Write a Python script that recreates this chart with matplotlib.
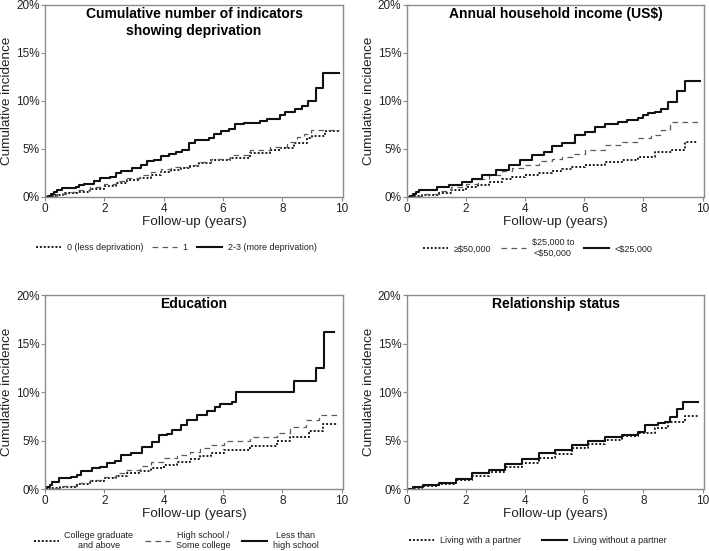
import matplotlib
matplotlib.use("Agg")
import matplotlib.pyplot as plt
from matplotlib.ticker import FuncFormatter

plt.rcParams['font.family'] = ['Liberation Sans', 'DejaVu Sans']

# Panel 1: cumulative number of indicators showing deprivation
dep_title = "Cumulative number of indicators\nshowing deprivation"
dep_labels = ["0 (less deprivation)", "1", "2-3 (more deprivation)"]
dep0_t = [0, 0.15, 0.3, 0.6, 1.09, 1.5, 1.99, 2.4, 2.77, 3.2, 3.56, 3.9, 4.23, 4.6, 4.9, 5.2, 5.58, 6.25, 6.92, 7.6, 7.93, 8.38, 8.83, 9.0, 9.45, 9.9]
dep0_y = [0, 0.1, 0.2, 0.4, 0.55, 0.8, 1.15, 1.45, 1.75, 2.0, 2.3, 2.55, 2.8, 3.0, 3.25, 3.5, 3.85, 4.1, 4.6, 4.9, 5.05, 5.6, 6.1, 6.3, 6.9, 6.9]
dep1_t = [0, 0.15, 0.4, 0.7, 1.09, 1.5, 1.99, 2.4, 2.77, 3.2, 3.56, 3.9, 4.23, 4.9, 5.2, 5.58, 6.25, 6.92, 7.6, 8.16, 8.5, 8.72, 8.95, 9.9]
dep1_y = [0, 0.15, 0.3, 0.5, 0.73, 1.0, 1.4, 1.7, 2.0, 2.3, 2.6, 2.9, 3.15, 3.3, 3.6, 4.0, 4.4, 4.9, 5.2, 5.75, 6.2, 6.6, 6.95, 6.95]
dep2_t = [0, 0.1, 0.2, 0.3, 0.41, 0.58, 1.03, 1.15, 1.3, 1.65, 1.87, 2.2, 2.38, 2.55, 2.94, 3.22, 3.45, 3.67, 3.9, 4.17, 4.4, 4.63, 4.85, 5.07, 5.52, 5.69, 5.92, 6.2, 6.42, 6.7, 7.26, 7.49, 7.93, 8.1, 8.44, 8.66, 8.85, 9.13, 9.37, 9.9]
dep2_y = [0, 0.15, 0.35, 0.55, 0.73, 0.9, 1.0, 1.25, 1.4, 1.7, 2.0, 2.1, 2.5, 2.7, 3.0, 3.3, 3.7, 3.9, 4.3, 4.5, 4.7, 4.9, 5.6, 5.9, 6.1, 6.6, 6.9, 7.1, 7.6, 7.7, 7.9, 8.1, 8.5, 8.9, 9.15, 9.5, 10.0, 11.4, 12.95, 12.95]

# Panel 2: annual household income
inc_title = "Annual household income (US$)"
inc_labels = ["\u2265$50,000", "$25,000 to\n<$50,000", "<$25,000"]
inc0_t = [0, 0.2, 0.5, 1.09, 1.5, 1.99, 2.4, 2.77, 3.2, 3.56, 4.0, 4.46, 4.9, 5.24, 5.6, 6.03, 6.7, 7.26, 7.82, 8.38, 8.95, 9.39, 9.8]
inc0_y = [0, 0.1, 0.2, 0.45, 0.7, 1.0, 1.3, 1.6, 1.85, 2.1, 2.3, 2.45, 2.7, 2.95, 3.1, 3.3, 3.65, 3.9, 4.2, 4.7, 4.9, 5.75, 5.75]
inc1_t = [0, 0.2, 0.5, 1.09, 1.5, 1.99, 2.4, 2.77, 3.2, 3.56, 4.0, 4.46, 4.9, 5.24, 5.6, 6.03, 6.7, 7.26, 7.82, 8.27, 8.61, 8.89, 9.9]
inc1_y = [0, 0.15, 0.3, 0.65, 1.0, 1.35, 1.85, 2.3, 2.7, 3.0, 3.35, 3.7, 3.95, 4.2, 4.5, 4.9, 5.4, 5.75, 6.1, 6.45, 7.0, 7.85, 7.85]
inc2_t = [0, 0.1, 0.2, 0.3, 0.41, 1.03, 1.43, 1.87, 2.2, 2.55, 3.0, 3.45, 3.84, 4.23, 4.62, 4.9, 5.24, 5.69, 6.03, 6.36, 6.7, 7.15, 7.43, 7.82, 7.99, 8.16, 8.38, 8.61, 8.83, 9.15, 9.4, 9.9]
inc2_y = [0, 0.15, 0.35, 0.55, 0.73, 1.0, 1.25, 1.6, 1.9, 2.3, 2.8, 3.3, 3.9, 4.4, 4.7, 5.3, 5.65, 6.45, 6.8, 7.25, 7.65, 7.8, 8.0, 8.2, 8.5, 8.75, 8.9, 9.2, 9.9, 11.0, 12.1, 12.1]

# Panel 3: education
edu_title = "Education"
edu_labels = ["College graduate\nand above", "High school /\nSome college", "Less than\nhigh school"]
edu0_t = [0, 0.2, 0.5, 1.09, 1.5, 1.99, 2.4, 2.77, 3.2, 3.56, 4.0, 4.46, 4.9, 5.24, 5.6, 6.03, 6.92, 7.82, 8.27, 8.9, 9.36, 9.87]
edu0_y = [0, 0.1, 0.25, 0.5, 0.8, 1.1, 1.35, 1.6, 1.9, 2.2, 2.5, 2.8, 3.1, 3.4, 3.7, 4.0, 4.45, 4.9, 5.4, 6.0, 6.75, 6.75]
edu1_t = [0, 0.2, 0.5, 1.09, 1.5, 1.99, 2.4, 2.77, 3.2, 3.56, 4.0, 4.46, 4.9, 5.24, 5.6, 6.03, 6.92, 7.82, 8.27, 8.8, 9.25, 9.87]
edu1_y = [0, 0.15, 0.3, 0.6, 0.9, 1.2, 1.6, 1.95, 2.4, 2.8, 3.15, 3.5, 3.85, 4.2, 4.55, 4.9, 5.4, 5.75, 6.4, 7.1, 7.6, 7.6]
edu2_t = [0, 0.08, 0.16, 0.25, 0.47, 0.86, 1.08, 1.2, 1.59, 1.87, 2.1, 2.37, 2.55, 2.9, 3.27, 3.6, 3.83, 4.1, 4.27, 4.6, 4.77, 5.11, 5.45, 5.73, 5.9, 6.29, 6.43, 8.4, 9.15, 9.4, 9.75]
edu2_y = [0, 0.2, 0.45, 0.75, 1.1, 1.2, 1.45, 1.85, 2.2, 2.3, 2.65, 2.9, 3.5, 3.7, 4.35, 4.8, 5.55, 5.7, 6.1, 6.6, 7.1, 7.6, 8.0, 8.5, 8.8, 9.0, 10.0, 11.1, 12.5, 16.2, 16.2]

# Panel 4: relationship status
rel_title = "Relationship status"
rel_labels = ["Living with a partner", "Living without a partner"]
rel0_t = [0, 0.2, 0.5, 1.09, 1.65, 2.21, 2.77, 3.33, 3.89, 4.46, 5.02, 5.58, 6.14, 6.7, 7.26, 7.82, 8.38, 8.83, 9.39, 9.84]
rel0_y = [0, 0.15, 0.3, 0.5, 0.9, 1.35, 1.8, 2.3, 2.7, 3.15, 3.6, 4.2, 4.65, 5.1, 5.45, 5.75, 6.25, 6.95, 7.5, 7.5]
rel1_t = [0, 0.2, 0.53, 1.09, 1.65, 2.21, 2.77, 3.33, 3.89, 4.46, 5.02, 5.58, 6.14, 6.7, 7.26, 7.82, 8.05, 8.5, 8.72, 8.89, 9.12, 9.34, 9.84]
rel1_y = [0, 0.2, 0.4, 0.6, 1.0, 1.6, 1.95, 2.6, 3.05, 3.7, 4.0, 4.5, 4.9, 5.4, 5.6, 5.9, 6.6, 6.8, 6.9, 7.4, 8.2, 9.0, 9.0]

dotted = dict(color='#1a1a1a', lw=1.4, linestyle=(0, (1, 1)))
dashed = dict(color='#5a5a5a', lw=0.9, linestyle=(0, (4.5, 3.5)))
solid = dict(color='#111111', lw=1.5, linestyle='-')

panels = [
    (dep_title, dep_labels, [(dep0_t, dep0_y), (dep1_t, dep1_y), (dep2_t, dep2_y)], [dotted, dashed, solid], 1.0),
    (inc_title, inc_labels, [(inc0_t, inc0_y), (inc1_t, inc1_y), (inc2_t, inc2_y)], [dotted, dashed, solid], 1.1),
    (edu_title, edu_labels, [(edu0_t, edu0_y), (edu1_t, edu1_y), (edu2_t, edu2_y)], [dotted, dashed, solid], 1.3),
    (rel_title, rel_labels, [(rel0_t, rel0_y), (rel1_t, rel1_y)], [dotted, solid], 2.4),
]

fig = plt.figure(figsize=(7.09, 5.51), dpi=100)
rects = [
    [0.0635, 0.6425, 0.4205, 0.3485],
    [0.574, 0.6425, 0.419, 0.3485],
    [0.0635, 0.1125, 0.4205, 0.352],
    [0.574, 0.1125, 0.419, 0.352],
]
spine_col = '#8c8c8c'

for rect, (title, labels, series, sty, colsp) in zip(rects, panels):
    ax = fig.add_axes(rect)
    for (t, y), lab, s in zip(series, labels, sty):
        ax.step(t, y, where='post', label=lab, **s)
    ax.set_xlim(0, 10.05)
    ax.set_ylim(0, 20)
    ax.set_xticks([0, 2, 4, 6, 8, 10])
    ax.set_yticks([0, 5, 10, 15, 20])
    ax.yaxis.set_major_formatter(FuncFormatter(lambda v, p: f"{v:.0f}%"))
    for sp in ax.spines.values():
        sp.set_color(spine_col)
        sp.set_linewidth(1.0)
    ax.tick_params(direction='out', length=3, width=0.8, color=spine_col,
                   labelsize=8.5, labelcolor='#222222', pad=1)
    ax.set_xlabel("Follow-up (years)", fontsize=9.7, color='#222222', labelpad=1)
    ax.set_ylabel("Cumulative incidence", fontsize=9.7, color='#222222', labelpad=2)
    ax.text(0.5, 0.988, title, transform=ax.transAxes, ha='center', va='top',
            fontsize=10, fontweight='bold', linespacing=1.25)
    leg = ax.legend(loc='center', bbox_to_anchor=(0.44, -0.265), ncol=len(labels),
                    frameon=False, fontsize=6.5, handlelength=2.8,
                    handletextpad=0.6, columnspacing=colsp)
    for txt in leg.get_texts():
        txt.set_multialignment('center')
        txt.set_color('#222222')

fig.savefig("out.png", dpi=100)
